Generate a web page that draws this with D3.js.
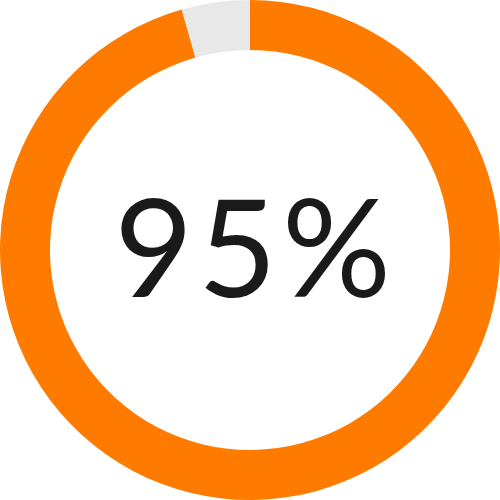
<!DOCTYPE html>
<html><head><meta charset="utf-8">
<script src="https://cdn.jsdelivr.net/npm/d3@7"></script>
<style>html,body{margin:0;padding:0;background:#fff;}svg{display:block;}</style>
</head><body>
<svg id="chart" width="500" height="500"></svg>
<script>
const categories = ["complete", "remaining"];
const values = [95.6, 4.4];
const colors = ["#FF7B00", "#E8E8E8"];
const centerLabel = "95%";

const W = 500, H = 500, outerR = 250, innerR = 200;
const svg = d3.select("#chart");
const g = svg.append("g").attr("transform", `translate(${W/2},${H/2})`);
const pie = d3.pie().sort(null).value(d => d.v);
const arc = d3.arc().innerRadius(innerR).outerRadius(outerR);
const color = d3.scaleOrdinal().domain(categories).range(colors);
g.selectAll("path").data(pie(categories.map((c,i)=>({c, v: values[i]}))))
  .enter().append("path").attr("d", arc).attr("fill", d => color(d.data.c));
g.append("text").attr("text-anchor","middle").attr("x",5).attr("y",47)
  .attr("font-family","Lato, sans-serif").attr("font-size",136).attr("font-weight",400)
  .attr("letter-spacing",5)
  .attr("fill","#1a1a1a").text(centerLabel);
</script>
</body></html>
